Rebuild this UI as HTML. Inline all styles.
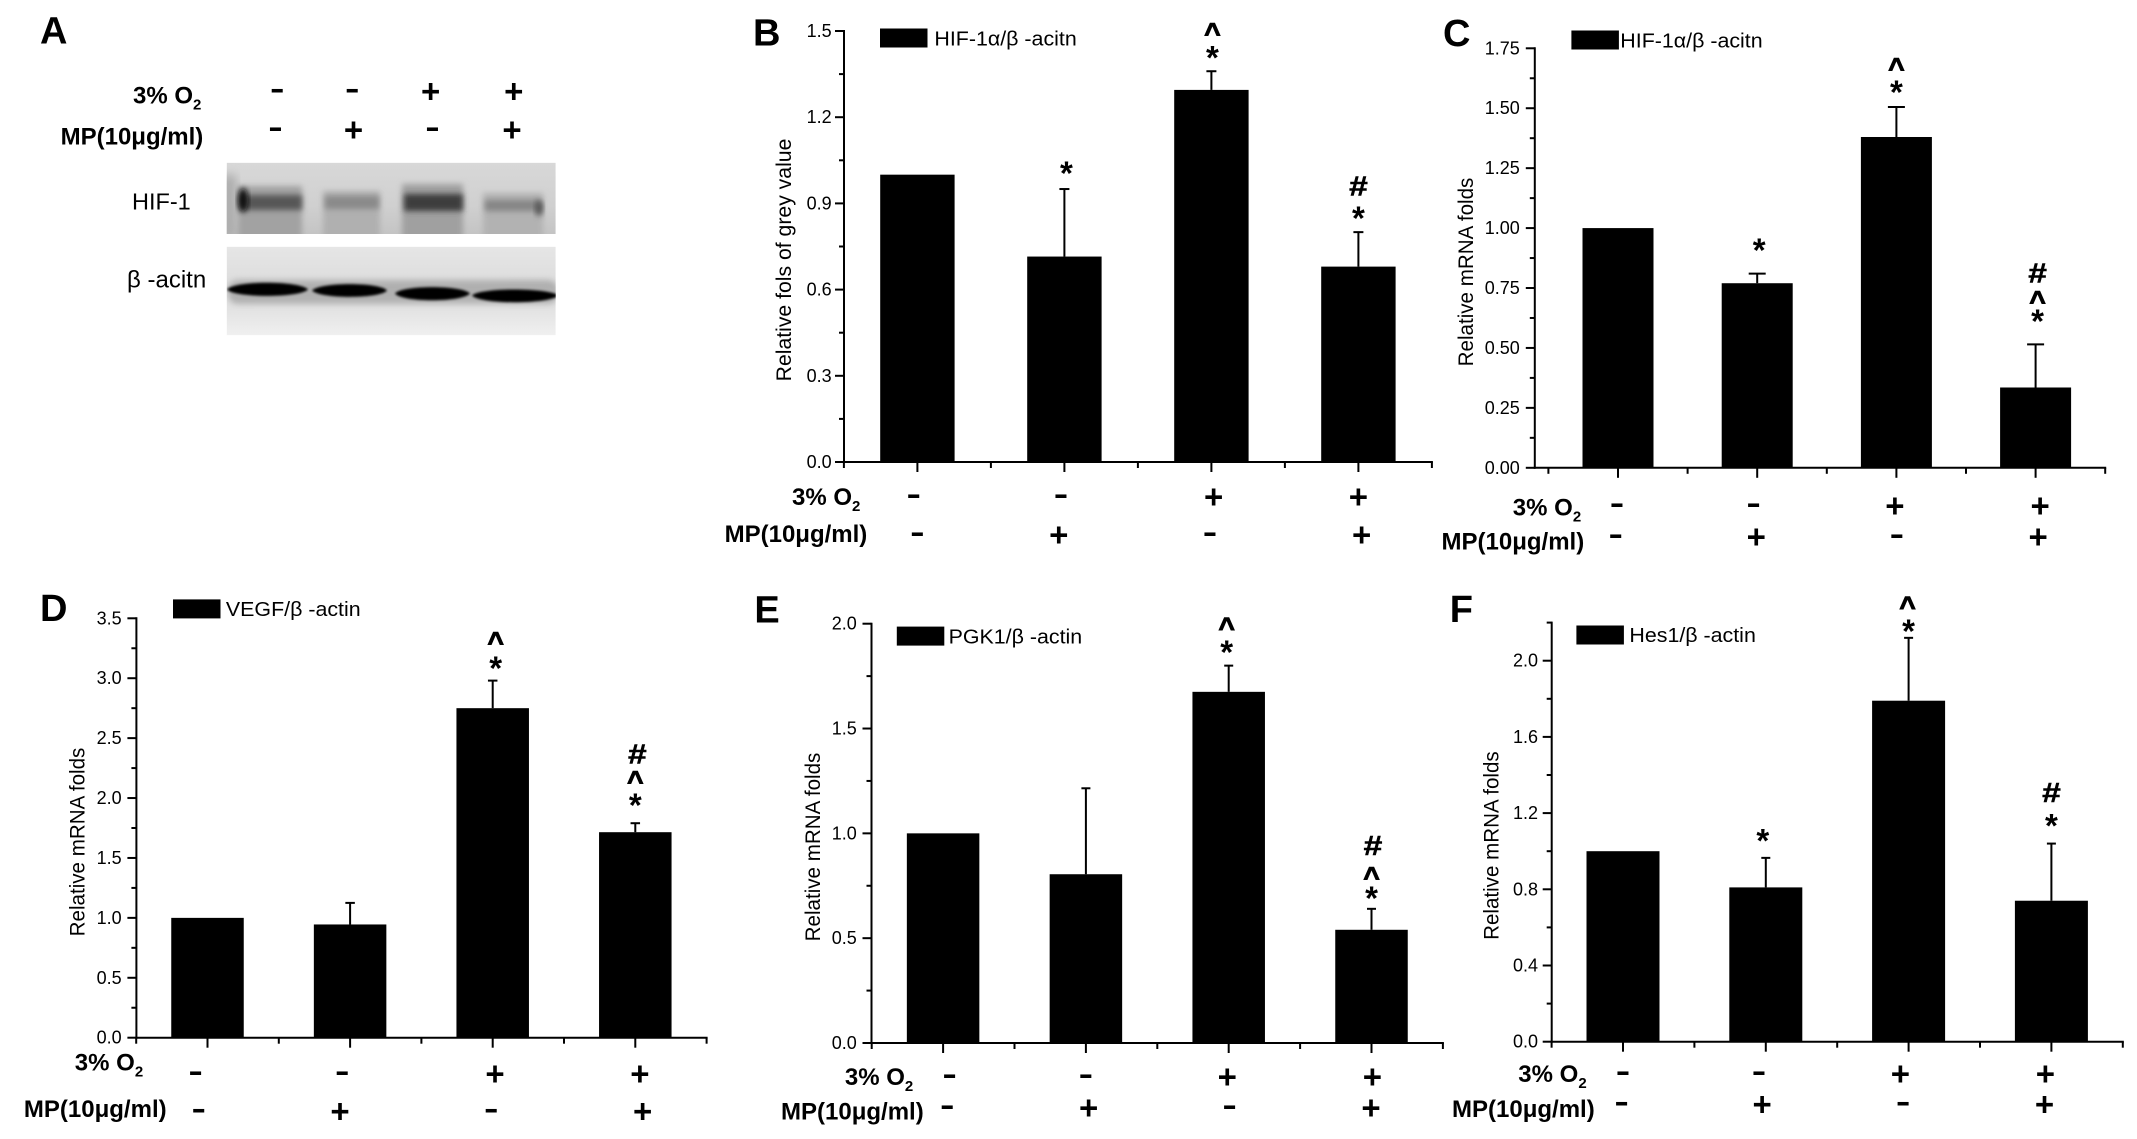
<!DOCTYPE html>
<html lang="en">
<head>
<meta charset="utf-8">
<title>HIF-1 expression under hypoxia with MP treatment</title>
<style>
html,body{margin:0;padding:0;background:#fff;}
body{width:2137px;height:1139px;overflow:hidden;}
svg{display:block;}
text{font-family:"Liberation Sans",Arial,sans-serif;fill:#000;}
</style>
</head>
<body>
<svg id="figure" xmlns="http://www.w3.org/2000/svg" width="2137" height="1139" viewBox="0 0 2137 1139">
  <rect x="0" y="0" width="2137" height="1139" fill="#fff"/>
  <defs>
    <filter id="b1" x="-30%" y="-60%" width="160%" height="220%"><feGaussianBlur stdDeviation="1.2"/></filter>
    <filter id="b3" x="-30%" y="-80%" width="160%" height="260%"><feGaussianBlur stdDeviation="3"/></filter>
    <filter id="b5" x="-30%" y="-80%" width="160%" height="260%"><feGaussianBlur stdDeviation="5"/></filter>
    <linearGradient id="hifBg" x1="0" y1="0" x2="0" y2="1">
      <stop offset="0" stop-color="#d8d8d8"/><stop offset="0.6" stop-color="#d0d0d0"/><stop offset="1" stop-color="#c4c4c4"/>
    </linearGradient>
    <linearGradient id="actinBg" x1="0" y1="0" x2="0" y2="1">
      <stop offset="0" stop-color="#e6e6e6"/><stop offset="0.45" stop-color="#dcdcdc"/><stop offset="0.7" stop-color="#e2e2e2"/><stop offset="1" stop-color="#f0f0f0"/>
    </linearGradient>
    <clipPath id="clipHif"><rect x="226.7" y="162.7" width="329" height="71.3"/></clipPath>
    <clipPath id="clipActin"><rect x="226.7" y="246.7" width="329" height="88.6"/></clipPath>
  </defs>
  <g clip-path="url(#clipHif)">
    <rect x="226.7" y="162.7" width="329" height="71.3" fill="url(#hifBg)"/>
    <rect x="222" y="175" width="14" height="64" fill="#aaa" filter="url(#b5)"/>
    <rect x="238" y="186" width="64" height="56" fill="#a2a2a2" filter="url(#b3)"/>
    <rect x="323" y="191" width="57" height="50" fill="#b0b0b0" filter="url(#b3)"/>
    <rect x="402" y="184" width="61" height="56" fill="#a0a0a0" filter="url(#b3)"/>
    <rect x="483" y="193" width="60" height="48" fill="#b2b2b2" filter="url(#b3)"/>
    <rect x="240" y="195" width="62" height="15" fill="#565656" filter="url(#b3)"/>
    <ellipse cx="243" cy="200" rx="5" ry="12" fill="#0c0c0c" filter="url(#b3)"/>
    <rect x="325" y="196" width="54" height="13" fill="#8a8a8a" filter="url(#b3)"/>
    <rect x="404" y="194" width="59" height="17" fill="#3e3e3e" filter="url(#b3)"/>
    <rect x="485" y="200" width="56" height="11" fill="#858585" filter="url(#b3)"/>
    <ellipse cx="539" cy="208" rx="4" ry="8" fill="#555" filter="url(#b3)"/>
  </g>
  <g clip-path="url(#clipActin)">
    <rect x="226.7" y="246.7" width="329" height="88.6" fill="url(#actinBg)"/>
    <rect x="228" y="280" width="330" height="24" rx="10" fill="#8c8c8c" opacity="0.55" filter="url(#b3)"/>
    <path d="M227 289.5C234 280.5 300 280.5 308 289.5C300 298 234 298 227 289.5Z" fill="#000" filter="url(#b1)"/>
    <path d="M312 290.5C320 282 380 282 387 290.5C380 299 320 299 312 290.5Z" fill="#000" filter="url(#b1)"/>
    <path d="M395 293.5C402 285 462 285 470 293.5C462 302.5 402 302.5 395 293.5Z" fill="#000" filter="url(#b1)"/>
    <path d="M472 295.5C480 287.5 548 287.5 559 295.5C548 304.5 480 304.5 472 295.5Z" fill="#000" filter="url(#b1)"/>
  </g>
  <g id="plots"></g>
</svg>
<script>
// ---- shared categories ----
const o2Signs = ['-', '-', '+', '+'];
const mpSigns = ['-', '+', '-', '+'];

// ---- panel B ----
const bValues = [1.0, 0.715, 1.295, 0.68];
const bErrorTops = [null, 0.95, 1.36, 0.80];
const bTickLabels = ['0.0', '0.3', '0.6', '0.9', '1.2', '1.5'];
// ---- panel C ----
const cValues = [1.0, 0.77, 1.38, 0.335];
const cErrorTops = [null, 0.81, 1.505, 0.515];
const cTickLabels = ['0.00', '0.25', '0.50', '0.75', '1.00', '1.25', '1.50', '1.75'];
// ---- panel D ----
const dValues = [1.0, 0.945, 2.75, 1.715];
const dErrorTops = [null, 1.125, 2.98, 1.79];
const dTickLabels = ['0.0', '0.5', '1.0', '1.5', '2.0', '2.5', '3.0', '3.5'];
// ---- panel E ----
const eValues = [1.0, 0.805, 1.675, 0.54];
const eErrorTops = [null, 1.215, 1.80, 0.64];
const eTickLabels = ['0.0', '0.5', '1.0', '1.5', '2.0'];
// ---- panel F ----
const fValues = [1.0, 0.81, 1.79, 0.74];
const fErrorTops = [null, 0.965, 2.12, 1.04];
const fTickLabels = ['0.0', '0.4', '0.8', '1.2', '1.6', '2.0'];

const SVGNS = 'http://www.w3.org/2000/svg';
const root = document.getElementById('plots');

function mk(parent, tag, name, attrs) {
  const el = document.createElementNS(SVGNS, tag);
  
  
  for (const k in attrs) el.setAttribute(k, attrs[k]);
  parent.appendChild(el);
  return el;
}
function line(parent, name, x1, y1, x2, y2, w) {
  return mk(parent, 'line', name, { x1: x1, y1: y1, x2: x2, y2: y2, stroke: '#000', 'stroke-width': w || 2 });
}
function txt(parent, name, x, y, str, size, o) {
  o = o || {};
  const t = 'translate(' + x + ' ' + y + ')' + (o.rot ? ' rotate(' + o.rot + ')' : '') + ' scale(' + (o.sx || 1) + ' 1)';
  const el = mk(parent, 'text', name, { transform: t, 'font-size': size, 'font-weight': o.bold ? 'bold' : 'normal', 'text-anchor': o.anchor || 'start' });
  if (o.stroke) {
    el.setAttribute('stroke', '#000');
    el.setAttribute('stroke-width', o.stroke);
  }
  el.textContent = str;
  return el;
}
const GLYPH = {
  '+': { size: 33, k: 0.34, sx: 1, stroke: 0 },
  '-': { size: 30, k: 0.24, sx: 1.45, stroke: 0 },
  '*': { size: 33, k: 0.56, sx: 1, stroke: 0 },
  '^': { size: 28, k: 0.50, sx: 1, stroke: 1 },
  '#': { size: 28, k: 0.35, sx: 1.2, stroke: 0.5 }
};
function glyph(parent, name, cx, cy, ch) {
  const g = GLYPH[ch];
  return txt(parent, name, cx, cy + g.k * g.size, ch, g.size, { bold: true, anchor: 'middle', sx: g.sx, stroke: g.stroke });
}
function o2Label(parent, x, y) {
  const el = txt(parent, 'oxygen-row-label', x, y, '3% O', 24, { bold: true });
  const s = document.createElementNS(SVGNS, 'tspan');
  
  
  s.setAttribute('dy', '6');
  s.setAttribute('font-size', '15');
  s.textContent = '2';
  el.appendChild(s);
}
function mpLabel(parent, x, y) {
  txt(parent, 'mp-row-label', x, y, 'MP(10\u03bcg/ml)', 24, { bold: true });
}
function signRow(parent, name, signs, centers, dx, cy) {
  signs.forEach(function (s, i) {
    glyph(parent, name + '-' + (i + 1), centers[i] + dx[i], cy, s);
  });
}

function drawPanel(p) {
  const g = mk(root, 'g', 'panel-' + p.letter.toLowerCase(), {});
  const y = function (v) { return p.y0 - v / p.yMax * (p.y0 - p.yTop); };
  const x = function (i) { return p.xFirst + i * p.xStep; };
  const half = p.xStep / 2;
  const centers = p.values.map(function (_, i) { return x(i); });

  txt(g, 'panel-letter', p.letterX, p.letterY, p.letter, 38, { bold: true });

  // bars and error bars
  p.values.forEach(function (v, i) {
    mk(g, 'rect', 'bar-' + (i + 1), { x: x(i) - p.barW / 2, y: y(v), width: p.barW, height: p.y0 - y(v), fill: '#000' });
    const top = p.errors[i];
    if (top !== null) {
      line(g, 'error-stem-' + (i + 1), x(i), y(v), x(i), y(top), 2);
      line(g, 'error-cap-' + (i + 1), x(i) - p.capW / 2, y(top), x(i) + p.capW / 2, y(top), 2);
    }
  });

  // axes
  const right = x(3) + half;
  line(g, 'y-axis', p.xAxis, p.y0 + 1, p.xAxis, p.yTop - 1, 2);
  line(g, 'x-axis', p.xAxis - 1, p.y0, right + 1, p.y0, 2);

  // y ticks
  const minorCount = Math.round(p.yMax / p.minorStep);
  for (let k = 0; k <= minorCount; k++) {
    const v = k * p.minorStep;
    const isMajor = k % 2 === 0;
    line(g, isMajor ? 'y-major-tick' : 'y-minor-tick', p.xAxis, y(v), p.xAxis - (isMajor ? 9 : 5), y(v), 2);
  }
  p.ticks.forEach(function (label, k) {
    txt(g, 'y-tick-label', p.xAxis - p.labelGap, y(k * p.minorStep * 2) + 6, label, 18, { anchor: 'end' });
  });

  // x ticks
  centers.forEach(function (c) {
    line(g, 'x-major-tick', c, p.y0, c, p.y0 + 10, 2);
  });
  for (let k = 0; k <= 4; k++) {
    const xx = x(0) - half + k * p.xStep;
    line(g, 'x-minor-tick', xx, p.y0, xx, p.y0 + 6, 2);
  }

  // y-axis title
  txt(g, 'y-axis-title', p.titleX, p.titleY, p.title, 21, { rot: -90, anchor: 'middle', sx: p.titleSx });

  // legend
  const lg = mk(g, 'g', 'legend', {});
  mk(lg, 'rect', 'legend-swatch', { x: p.legX, y: p.legY, width: 47.5, height: 19, fill: '#000' });
  txt(lg, 'legend-label', p.legTextX, p.legTextY, p.legend, 20, { sx: 1.07 });

  // significance marks, stacked above the error cap
  p.marks.forEach(function (m) {
    const base = y(p.errors[m.bar]);
    glyph(g, 'significance-mark', x(m.bar) + m.dx, base - m.dy, m.ch);
  });

  // treatment rows
  o2Label(g, p.o2X, p.o2Y);
  mpLabel(g, p.mpX, p.mpY);
  signRow(g, 'oxygen-sign', o2Signs, centers, p.o2Dx, p.o2Cy);
  signRow(g, 'mp-sign', mpSigns, centers, p.mpDx, p.mpCy);
}

// ---- panel A annotations (blot) ----
(function () {
  const g = mk(root, 'g', 'panel-a', {});
  txt(g, 'panel-letter', 40, 43.6, 'A', 38, { bold: true });
  o2Label(g, 133, 103.6);
  mpLabel(g, 60.6, 144.6);
  const laneCenters = [277, 352, 431, 514];
  signRow(g, 'oxygen-sign', o2Signs, laneCenters, [0.3, 0.2, -0.3, -0.2], 91.5);
  signRow(g, 'mp-sign', mpSigns, laneCenters, [-1.5, 1.5, 1.5, -2], 130);
  txt(g, 'hif-1-blot-label', 132, 209.6, 'HIF-1', 23.5, {});
  txt(g, 'beta-actin-blot-label', 127, 287.5, '\u03b2 -acitn', 24, {});
})();

drawPanel({
  letter: 'B', letterX: 753, letterY: 45.4,
  values: bValues, errors: bErrorTops, ticks: bTickLabels,
  yMax: 1.5, minorStep: 0.15, y0: 462, yTop: 31,
  xAxis: 844, xFirst: 917.4, xStep: 147, barW: 74.4, capW: 10, labelGap: 12.4,
  title: 'Relative fols of grey value', titleX: 791, titleY: 260, titleSx: 1.01,
  legend: 'HIF-1\u03b1/\u03b2 -acitn', legX: 880, legY: 28.5, legTextX: 934.4, legTextY: 45.4,
  marks: [
    { bar: 1, ch: '*', dx: 2, dy: 23 },
    { bar: 2, ch: '*', dx: 1, dy: 20.7 }, { bar: 2, ch: '^', dx: 1, dy: 42.5 },
    { bar: 3, ch: '*', dx: 0, dy: 21 }, { bar: 3, ch: '#', dx: 0, dy: 46.5 }
  ],
  o2X: 792, o2Y: 505, mpX: 724.6, mpY: 542,
  o2Cy: 497, mpCy: 535,
  o2Dx: [-3.6, -3.4, 2.3, 0], mpDx: [0, -5.6, -1.4, 3.2]
});

drawPanel({
  letter: 'C', letterX: 1443, letterY: 46,
  values: cValues, errors: cErrorTops, ticks: cTickLabels,
  yMax: 1.75, minorStep: 0.125, y0: 467.8, yTop: 48.3,
  xAxis: 1534.8, xFirst: 1618, xStep: 139.2, barW: 71, capW: 17, labelGap: 15,
  title: 'Relative mRNA folds', titleX: 1473, titleY: 272, titleSx: 0.98,
  legend: 'HIF-1\u03b1/\u03b2 -acitn', legX: 1571.4, legY: 30.5, legTextX: 1620.3, legTextY: 47.3,
  marks: [
    { bar: 1, ch: '*', dx: 2, dy: 30.5 },
    { bar: 2, ch: '*', dx: 0, dy: 21.8 }, { bar: 2, ch: '^', dx: 0, dy: 43.6 },
    { bar: 3, ch: '*', dx: 2, dy: 30.5 }, { bar: 3, ch: '^', dx: 2, dy: 48 }, { bar: 3, ch: '#', dx: 2, dy: 71.6 }
  ],
  o2X: 1512.8, o2Y: 515.4, mpX: 1441.5, mpY: 549.6,
  o2Cy: 506, mpCy: 537,
  o2Dx: [-1, -3.6, -1.5, 4.5], mpDx: [-2.3, -0.9, 0.5, 2.5]
});

drawPanel({
  letter: 'D', letterX: 40, letterY: 620.8,
  values: dValues, errors: dErrorTops, ticks: dTickLabels,
  yMax: 3.5, minorStep: 0.25, y0: 1037.7, yTop: 618.3,
  xAxis: 136.4, xFirst: 207.5, xStep: 142.6, barW: 72.5, capW: 9.5, labelGap: 14.7,
  title: 'Relative mRNA folds', titleX: 84.5, titleY: 842, titleSx: 0.98,
  legend: 'VEGF/\u03b2 -actin', legX: 173, legY: 599.4, legTextX: 225.9, legTextY: 616,
  marks: [
    { bar: 2, ch: '*', dx: 3, dy: 19.6 }, { bar: 2, ch: '^', dx: 3, dy: 43 },
    { bar: 3, ch: '*', dx: 0, dy: 25 }, { bar: 3, ch: '^', dx: 0, dy: 46.8 }, { bar: 3, ch: '#', dx: 2, dy: 69.7 }
  ],
  o2X: 74.8, o2Y: 1070.7, mpX: 23.9, mpY: 1117,
  o2Cy: 1073.6, mpCy: 1111.4,
  o2Dx: [-11.9, -7.8, 2.3, 4.6], mpDx: [-8.7, -10.1, -1.4, 7.4]
});

drawPanel({
  letter: 'E', letterX: 754.4, letterY: 622.6,
  values: eValues, errors: eErrorTops, ticks: eTickLabels,
  yMax: 2.0, minorStep: 0.25, y0: 1043, yTop: 623.7,
  xAxis: 871.5, xFirst: 943.1, xStep: 142.8, barW: 72.5, capW: 9, labelGap: 14.7,
  title: 'Relative mRNA folds', titleX: 820, titleY: 847, titleSx: 0.98,
  legend: 'PGK1/\u03b2 -actin', legX: 896.8, legY: 626.6, legTextX: 948.6, legTextY: 643.7,
  marks: [
    { bar: 2, ch: '*', dx: -2, dy: 20.7 }, { bar: 2, ch: '^', dx: -2, dy: 42.5 },
    { bar: 3, ch: '*', dx: 0, dy: 17.8 }, { bar: 3, ch: '^', dx: 0, dy: 36.3 }, { bar: 3, ch: '#', dx: 1.5, dy: 63.5 }
  ],
  o2X: 844.9, o2Y: 1085, mpX: 781, mpY: 1119.7,
  o2Cy: 1076.9, mpCy: 1107.7,
  o2Dx: [6.5, 0, -1.4, 0.9], mpDx: [4.2, 2.8, 0.9, -0.5]
});

drawPanel({
  letter: 'F', letterX: 1449.7, letterY: 621.9,
  values: fValues, errors: fErrorTops, ticks: fTickLabels,
  yMax: 2.2, minorStep: 0.2, y0: 1041.7, yTop: 622.6,
  xAxis: 1551.7, xFirst: 1623, xStep: 142.8, barW: 73, capW: 9, labelGap: 13.7,
  title: 'Relative mRNA folds', titleX: 1498.6, titleY: 845.6, titleSx: 0.98,
  legend: 'Hes1/\u03b2 -actin', legX: 1576.4, legY: 625.5, legTextX: 1629.4, legTextY: 641.8,
  marks: [
    { bar: 1, ch: '*', dx: -3, dy: 24.3 },
    { bar: 2, ch: '*', dx: 0, dy: 14 }, { bar: 2, ch: '^', dx: -1, dy: 36 },
    { bar: 3, ch: '*', dx: 0, dy: 25 }, { bar: 3, ch: '#', dx: 0, dy: 51.5 }
  ],
  o2X: 1518.3, o2Y: 1082, mpX: 1452, mpY: 1117,
  o2Cy: 1073.6, mpCy: 1104.5,
  o2Dx: [0, -6.8, -8.2, -6], mpDx: [-1.4, -3.6, -5.5, -6.9]
});
</script>
</body>
</html>
